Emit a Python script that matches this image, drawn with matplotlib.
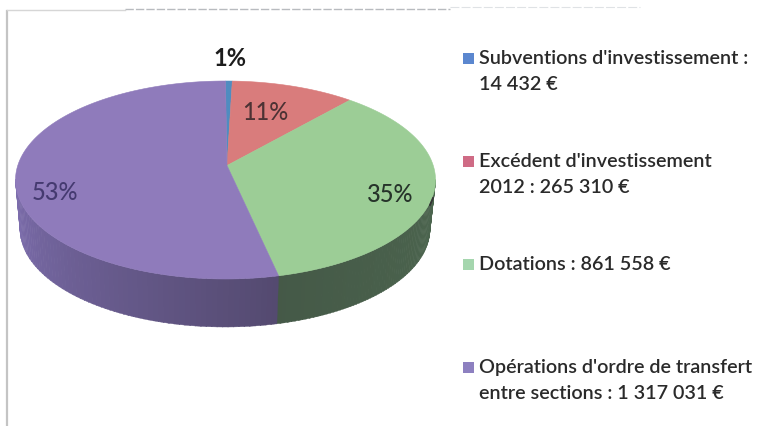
import numpy as np
import matplotlib
matplotlib.use("Agg")
import matplotlib.pyplot as plt
from matplotlib.patches import Polygon, Rectangle

categories = ["Subventions d'investissement :\n14 432 €",
              "Excédent d'investissement\n2012 : 265 310 €",
              "Dotations : 861 558 €",
              "Opérations d'ordre de transfert\nentre sections : 1 317 031 €"]
values = [14432, 265310, 861558, 1317031]
pct_labels = ["1%", "11%", "35%", "53%"]
face_colors = ["#4f8cc0", "#d97c7c", "#9ccd96", "#8f7bbb"]
legend_colors = ["#5b87cf", "#cf6b85", "#a5d6ae", "#8d80c0"]

W, H = 765, 426
fig = plt.figure(figsize=(W / 100, H / 100), dpi=100)
ax = fig.add_axes([0, 0, 1, 1])
ax.set_xlim(0, W)
ax.set_ylim(H, 0)
ax.axis("off")

# Pie geometry (pixels)
cx, cy, rx, ry = 225.5, 180, 210, 99
bcx, bcy, brx, bry = 225, 229, 205, 98
apex = (227, 165.5)
a = -0.0654  # perspective warp


def warp(theta):
    """True clockwise-from-top angle -> ellipse parameter (perspective)."""
    z = np.exp(1j * theta)
    return np.angle((z - a) / (1 - a * z))


def top_pt(p):
    return cx + rx * np.sin(p), cy - ry * np.cos(p)


def bot_pt(p):
    return bcx + brx * np.sin(p), bcy - bry * np.cos(p)


fr = np.array(values, float) / sum(values)
edges = np.concatenate([[0], np.cumsum(fr)]) * 2 * np.pi
params = [np.unwrap(warp(np.linspace(edges[i], edges[i + 1], 120))) for i in range(4)]

# Side of the pie, drawn as thin shaded strips
side_dark = {2: ((0.27, 0.35, 0.28), (0.30, 0.40, 0.31)),
             3: ((0.33, 0.29, 0.44), (0.49, 0.43, 0.68))}
for i in (2, 3):
    p = np.mod(params[i], 2 * np.pi)
    p = p[(p >= np.pi / 2 - 0.02) & (p <= 3 * np.pi / 2 + 0.02)]
    fine = np.linspace(p.min(), p.max(), 70)
    c0, c1 = map(np.array, side_dark[i])
    for j in range(len(fine) - 1):
        t = j / (len(fine) - 2)
        col = c0 + (c1 - c0) * t if i == 3 else c1 + (c0 - c1) * t
        seg = fine[j:j + 2] + [0, 0.004]
        xt, yt = top_pt(seg)
        xb, yb = bot_pt(seg)
        ax.add_patch(Polygon(np.r_[np.c_[xt, yt], np.c_[xb, yb][::-1]],
                             closed=True, fc=col, ec=col, lw=0.3))

# Top face
for i in range(4):
    x, y = top_pt(params[i])
    pts = np.r_[[apex], np.c_[x, y]]
    ax.add_patch(Polygon(pts, closed=True, fc=face_colors[i], ec=face_colors[i], lw=0.4))

# Percent labels
ax.text(229.5, 59, pct_labels[0], ha="center", va="center", family="Lato", fontsize=17,
        fontweight="bold", color="#1c1c1c")
ax.text(265, 112, pct_labels[1], ha="center", va="center", family="Lato", fontsize=17,
        fontweight="medium", color="#4c3234")
ax.text(390, 195, pct_labels[2], ha="center", va="center", family="Lato", fontsize=17,
        fontweight="medium", color="#26332a")
ax.text(55, 192, pct_labels[3], ha="center", va="center", family="Lato", fontsize=17,
        fontweight="medium", color="#453a70")

# Legend
legend_y = [71.5, 174.5, 264.5, 380.5]
square_y = [58, 161, 264, 367]
for name, col, ly, sy in zip(categories, legend_colors, legend_y, square_y):
    ax.add_patch(Rectangle((463, sy - 5), 11, 10.5, fc=col, ec="none"))
    ax.text(479, ly, name, ha="left", va="center", family="Lato", fontsize=14.2,
            fontweight="semibold", color="#2a2a2a", linespacing=1.7)

# Scanned frame and specks
ax.plot([7, 7], [11, 426], color="#c4c4c4", lw=1.6)
ax.plot([7, 125], [10, 10], color="#d6d6d6", lw=1)
ax.plot([125, 450], [8.5, 8.5], color="#b8bbbf", lw=1.0, ls=(0, (6, 1.5)))
ax.plot([450, 640], [7, 7], color="#dfe2e5", lw=0.8, ls=(0, (8, 2)))
ax.plot([430, 433], [205, 198], color="#333333", lw=1.3)

fig.savefig("out.png", dpi=100, facecolor="white")
